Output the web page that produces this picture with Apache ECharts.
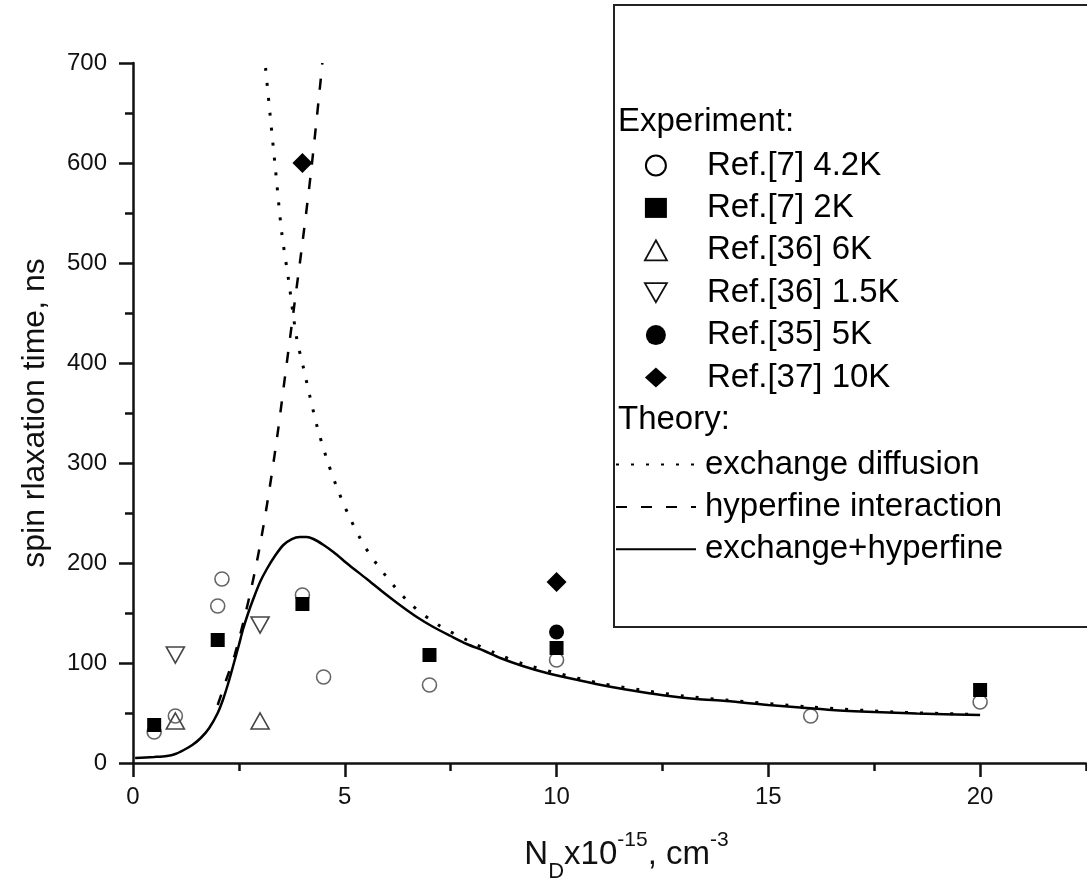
<!DOCTYPE html>
<html>
<head>
<meta charset="utf-8">
<title>spin relaxation time</title>
<script src="https://cdn.jsdelivr.net/npm/echarts@6/dist/echarts.min.js"></script>
<style>
  html, body { margin: 0; padding: 0; background: #fff; }
  #main { width: 1087px; height: 888px; }
</style>
</head>
<body>
<div id="main"></div>
<script>
// ---- data ----
// experiment points, [N_D, time]
var ref7_42K = [[0.5, 31], [1, 47], [2, 157], [2.1, 184], [4, 168], [4.5, 86], [7, 78], [10, 103], [16, 47], [20, 61]];
var ref7_2K = [[0.5, 38], [2, 123], [4, 159], [7, 108], [10, 115], [20, 73]];
var ref36_6K = [[1, 42], [3, 42]];
var ref36_15K = [[1, 108], [3, 138]];
var ref35_5K = [[10, 131]];
var ref37_10K = [[4, 600], [10, 181]];

// theory curves
var exDiffX = [3.13, 3.23, 3.37, 3.51, 3.67, 3.86, 4.02, 4.18, 4.35, 4.56, 4.81, 5.11, 5.48, 5.97, 6.58, 7.21, 7.88, 8.55, 9.22, 10, 11, 12, 13, 14, 16, 18, 20];
var exDiffY = [695, 651, 591, 531, 484, 426, 396, 366, 336, 306, 276, 246, 216, 187, 158, 138, 123, 110, 99, 90, 80, 73, 67, 63, 56, 51, 48.5];

var hypX = [2.0, 2.2, 2.4, 2.6, 2.8, 3.0, 3.2, 3.4, 3.6, 3.8, 4.0, 4.2, 4.4, 4.47];
var hypY = [58, 83, 108, 140, 176, 218, 268, 325, 390, 455, 520, 590, 670, 700];

var sumX = [0.05, 0.5, 0.8, 1.0, 1.2, 1.4, 1.6, 1.8, 2.0, 2.13, 2.25, 2.37, 2.5, 2.6, 2.72, 2.84, 3.0, 3.16, 3.35, 3.55, 3.75, 3.94, 4.1, 4.26, 4.5, 4.73, 5.1, 5.52, 5.9, 6.3, 6.7, 7.09, 7.5, 7.88, 8.3, 8.67, 9.2, 9.77, 10.5, 11.3, 12, 12.65, 13.3, 14, 15, 15.75, 16.5, 17.5, 18.5, 20];
var sumY = [5, 6, 7, 9, 13, 18, 25, 35, 50, 64, 80, 98, 118, 134, 150, 164, 181, 194, 207, 218, 224, 226, 226, 224, 218, 211, 198, 184, 171, 158, 146, 136, 127, 119, 112, 105, 97, 90, 83, 76, 71, 67, 64, 62, 58, 55.5, 53, 51, 49.5, 48];

// ticks
var xMajor = [0, 5, 10, 15, 20];
var xMinor = [2.5, 7.5, 12.5, 17.5, 22.5];

var expNames = ['Ref.[7] 4.2K', 'Ref.[7] 2K', 'Ref.[36] 6K', 'Ref.[36] 1.5K', 'Ref.[35] 5K', 'Ref.[37] 10K'];
var theoryNames = ['exchange diffusion', 'hyperfine interaction', 'exchange+hyperfine'];

function pairs(xs, ys) {
  var out = [];
  for (var i = 0; i < xs.length; i++) out.push([xs[i], ys[i]]);
  return out;
}

var FONT = "'Liberation Sans', Arial, sans-serif";
var INK = '#111';
var DOWN_TRI = 'path://M0,0L20,0L10,17.3Z';

var myChart = echarts.init(document.getElementById('main'));

// legend for experiment: open circle icon is drawn black in the box
var expLegendData = expNames.map(function (n, i) {
  if (i === 0) return { name: n, itemStyle: { borderColor: '#000', borderWidth: 2 } };
  if (i === 2 || i === 3) return { name: n, itemStyle: { borderColor: '#111', borderWidth: 1.8 } };
  return { name: n };
});

var option = {
  animation: false,
  backgroundColor: '#fff',
  textStyle: { fontFamily: FONT },
  grid: { left: 133, right: 1, top: 63, bottom: 124 },
  xAxis: [{
    type: 'value',
    min: 0, max: 22.5,
    position: 'bottom',
    splitLine: { show: false },
    axisLine: { lineStyle: { color: INK, width: 2.5 } },
    axisTick: { customValues: xMajor, length: 14, lineStyle: { color: INK, width: 2.5 } },
    axisLabel: { customValues: xMajor, fontSize: 24, color: INK, margin: 22, fontFamily: FONT },
    name: 'N{sub|D}x10{sup|-15}, cm{sup|-3}',
    nameLocation: 'middle',
    nameGap: 64,
    nameTextStyle: {
      fontSize: 33, color: INK, fontFamily: FONT, lineHeight: 56,
      padding: [0, 0, 0, 34],
      rich: {
        sub: { fontSize: 22, lineHeight: 22, verticalAlign: 'bottom', color: INK, fontFamily: FONT },
        sup: { fontSize: 21, lineHeight: 21, verticalAlign: 'top', padding: [3, 0, 0, 0], color: INK, fontFamily: FONT }
      }
    }
  }, {
    type: 'value',
    min: 0, max: 22.5,
    position: 'bottom',
    splitLine: { show: false },
    axisLine: { show: false },
    axisTick: { customValues: xMinor, length: 8, lineStyle: { color: INK, width: 2.5 } },
    axisLabel: { show: false }
  }],
  yAxis: {
    type: 'value',
    min: 0, max: 700, interval: 100,
    splitLine: { show: false },
    axisLine: { show: true, lineStyle: { color: INK, width: 2.5 } },
    axisTick: { show: true, length: 14, lineStyle: { color: INK, width: 2.5 } },
    minorTick: { show: true, splitNumber: 2, length: 8, lineStyle: { color: INK, width: 2.5 } },
    axisLabel: { fontSize: 24, color: INK, margin: 26, fontFamily: FONT },
    name: 'spin rlaxation time, ns',
    nameLocation: 'middle',
    nameGap: 82,
    nameTextStyle: { fontSize: 32, color: INK, fontFamily: FONT }
  },
  legend: [{
    data: expLegendData,
    orient: 'vertical',
    left: 644, top: 149,
    padding: 0,
    itemWidth: 22, itemHeight: 20, itemGap: 9.4,
    selectedMode: false,
    textStyle: { fontSize: 33, lineHeight: 32, color: '#000', fontFamily: FONT, padding: [0, 0, 0, 35] }
  }, {
    data: theoryNames,
    orient: 'vertical',
    left: 615, top: 448,
    padding: 0,
    itemWidth: 80, itemHeight: 20, itemGap: 9.4,
    selectedMode: false,
    itemStyle: { color: 'rgba(0,0,0,0)', borderWidth: 0, opacity: 0 },
    textStyle: { fontSize: 33, lineHeight: 32, color: '#000', fontFamily: FONT, padding: [0, 0, 0, 4] }
  }],
  graphic: [
    { type: 'rect', z: 0, shape: { x: 614, y: 5, width: 540, height: 622 },
      style: { fill: 'none', stroke: '#222', lineWidth: 2 } },
    { type: 'text', x: 618, y: 122, style: { text: 'Experiment:', fontSize: 33, fontFamily: FONT, fill: '#000', verticalAlign: 'middle' } },
    { type: 'text', x: 618, y: 420, style: { text: 'Theory:', fontSize: 33, fontFamily: FONT, fill: '#000', verticalAlign: 'middle' } }
  ],
  series: [
    {
      name: 'exchange diffusion', type: 'line', symbol: 'none', smooth: 0.3,
      data: pairs(exDiffX, exDiffY),
      itemStyle: { color: '#000' },
      lineStyle: { color: '#000', width: 3, type: [3, 12] }
    },
    {
      name: 'hyperfine interaction', type: 'line', symbol: 'none', smooth: 0.3,
      data: pairs(hypX, hypY),
      itemStyle: { color: '#000' },
      lineStyle: { color: '#000', width: 2.5, type: [11, 14] }
    },
    {
      name: 'exchange+hyperfine', type: 'line', symbol: 'none', smooth: 0.3,
      data: pairs(sumX, sumY),
      itemStyle: { color: '#000' },
      lineStyle: { color: '#000', width: 2.5 }
    },
    {
      name: 'Ref.[7] 4.2K', type: 'scatter', symbol: 'circle', symbolSize: 14,
      data: ref7_42K,
      itemStyle: { color: 'rgba(255,255,255,0)', borderColor: '#666', borderWidth: 1.6, opacity: 1 }
    },
    {
      name: 'Ref.[7] 2K', type: 'scatter', symbol: 'rect', symbolSize: 14,
      data: ref7_2K,
      itemStyle: { color: '#000', opacity: 1 }
    },
    {
      name: 'Ref.[36] 6K', type: 'scatter', symbol: 'triangle', symbolSize: [18, 16],
      data: ref36_6K,
      itemStyle: { color: 'rgba(255,255,255,0)', borderColor: '#444', borderWidth: 1.6, opacity: 1 }
    },
    {
      name: 'Ref.[36] 1.5K', type: 'scatter', symbol: DOWN_TRI, symbolSize: [18, 16],
      data: ref36_15K,
      itemStyle: { color: 'rgba(255,255,255,0)', borderColor: '#444', borderWidth: 1.6, opacity: 1 }
    },
    {
      name: 'Ref.[35] 5K', type: 'scatter', symbol: 'circle', symbolSize: 15,
      data: ref35_5K,
      itemStyle: { color: '#000', opacity: 1 }
    },
    {
      name: 'Ref.[37] 10K', type: 'scatter', symbol: 'diamond', symbolSize: 20,
      data: ref37_10K,
      itemStyle: { color: '#000', opacity: 1 }
    }
  ]
};

myChart.setOption(option);
</script>
</body>
</html>
